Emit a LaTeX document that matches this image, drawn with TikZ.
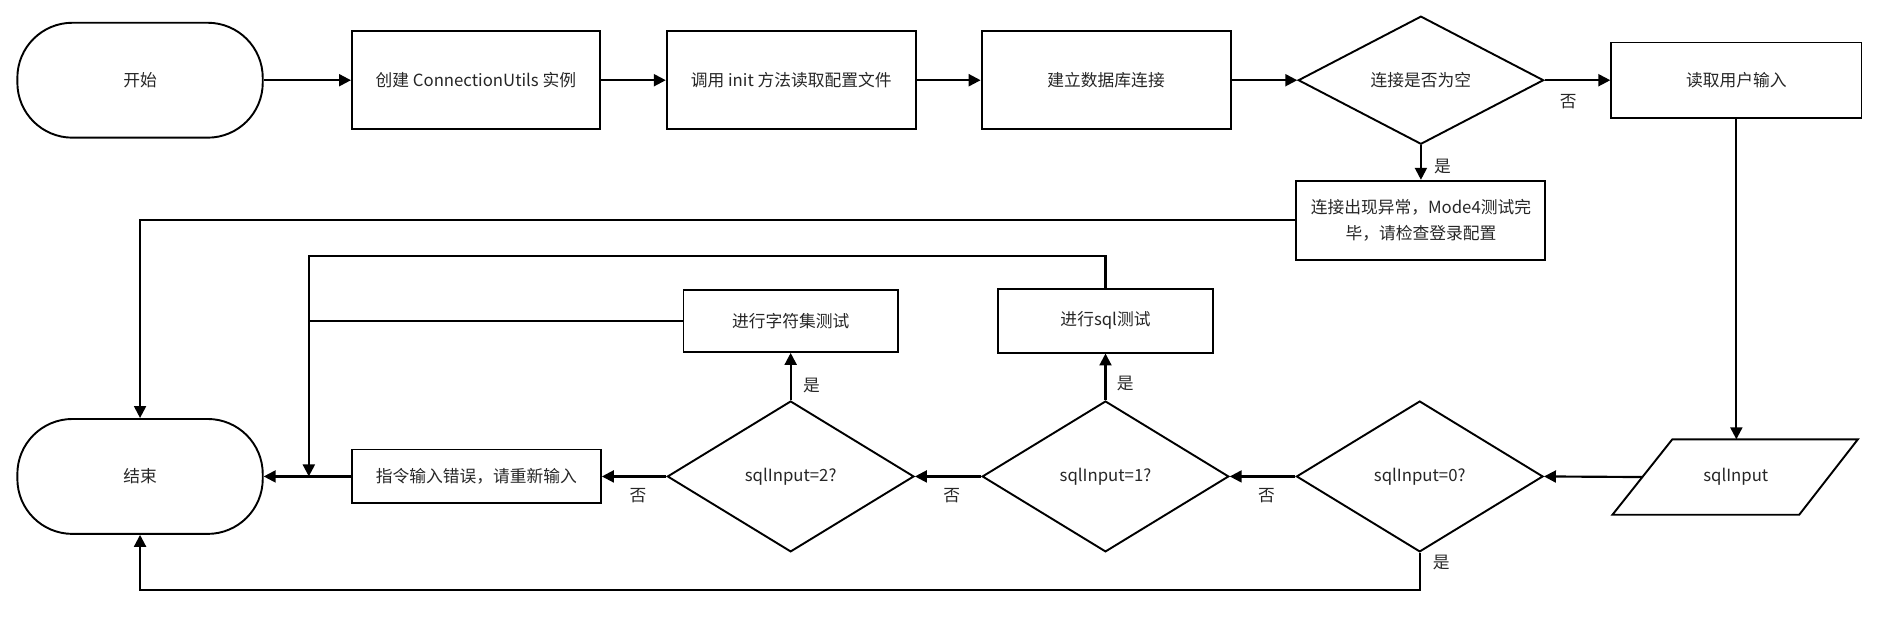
\documentclass[tikz,border=0pt]{standalone}
\usepackage{fontspec}
\setmainfont{Noto Sans CJK SC}
\usetikzlibrary{shapes.geometric,arrows.meta,calc}
\begin{document}
\begin{tikzpicture}[x=1pt,y=-1pt,
 font=\fontsize{14}{21}\selectfont,
 shp/.style={draw, line width=1.6pt, inner sep=2pt, align=center, text=black!85},
 term/.style={shp, rectangle, rounded corners=46pt, minimum width=205pt, minimum height=96pt},
 proc/.style={shp, rectangle, minimum width=208pt, minimum height=82pt},
 dec/.style={shp, diamond, minimum width=206pt, minimum height=126pt, inner sep=0pt},
 iotext/.style={inner sep=2pt, text=black!85},
 ioshape/.style={draw, line width=1.6pt, line join=miter},
 arr/.style={line width=1.8pt, -{Triangle[length=10pt,width=10pt]}},
 ln/.style={line width=1.8pt},
 lbl/.style={font=\fontsize{14}{16}\selectfont, inner sep=0pt, text=black!85}
]
\useasboundingbox (0,0) rectangle (1568,515);
% nodes
\node[term] (start) at (117,67) {开始};
\node[proc, minimum width=207pt] (b1) at (397.5,67) {创建 ConnectionUtils 实例};
\node[proc] (b2) at (661,67) {调用 init 方法读取配置文件};
\node[proc] (b3) at (924,67) {建立数据库连接};
\node[dec, minimum width=205pt, minimum height=107pt] (d) at (1187,67) {连接是否为空};
\node[proc, minimum width=209pt, minimum height=63pt] (b4) at (1450.5,67) {读取用户输入};
\node[proc, minimum width=208pt, minimum height=66pt] (b5) at (1187,184) {连接出现异常，Mode4测试完\\毕，请检查登录配置};
\node[term] (end) at (117,398) {结束};
\node[proc, minimum width=208pt, minimum height=45pt] (b6) at (398,398) {指令输入错误，请重新输入};
\node[dec] (d2) at (660.5,398) {sqlInput=2?};
\node[dec] (d1) at (923.5,398) {sqlInput=1?};
\node[dec] (d0) at (1186,398) {sqlInput=0?};
% parallelogram (input)
\coordinate (pTL) at (1397,367);
\coordinate (pTR) at (1552,367);
\coordinate (pBR) at (1503,430);
\coordinate (pBL) at (1347,430);
\draw[ioshape] (pTL) -- (pTR) -- (pBR) -- (pBL) -- cycle;
\node[iotext] (inp) at (1450,398.5) {sqlInput};
\coordinate (inpW) at ($(pTL)!0.5!(pBL)$);
\coordinate (inpN) at (1450,367);
\node[proc, minimum width=179pt, minimum height=52pt] (b7) at (660.5,268) {进行字符集测试};
\node[proc, minimum width=179pt, minimum height=53pt] (b8) at (923.5,268) {进行sql测试};
\coordinate (j) at (258,398);
% connectors
\draw[arr] (start.east) -- (b1.west);
\draw[arr] (b1.east) -- (b2.west);
\draw[arr] (b2.east) -- (b3.west);
\draw[arr] (b3.east) -- (d.west);
\draw[arr] (d.east) -- (b4.west);
\draw[arr] (d.south) -- (b5.north);
\draw[arr] (b5.west) -| (end.north);
\draw[arr] (b4.south) -- (b4.south |- inpN);
\draw[arr] (inpW) -- (d0.east);
\draw[arr] (d0.west) -- (d1.east);
\draw[arr] (d1.west) -- (d2.east);
\draw[arr] (d2.west) -- (b6.east);
\draw[arr] (b6.west) -- (end.east);
\draw[arr] (d0.south) -- ++(0,31) -| (end.south);
\draw[arr] (d1.north) -- (b8.south);
\draw[arr] (d2.north) -- (b7.south);
\draw[arr] (b8.north) -- ++(0,-27) -| (j);
\draw[ln] (b7.west) -- (b7.west -| j);
% labels
\node[lbl] (l1) at (1310,85) {否};
\node[lbl] (l2) at (1205,139) {是};
\node[lbl] (l3) at (1058,414) {否};
\node[lbl] (l4) at (795,414) {否};
\node[lbl] (l5) at (533,414) {否};
\node[lbl] (l6) at (1204,470) {是};
\node[lbl] (l7) at (940,320) {是};
\node[lbl] (l8) at (678,322) {是};
\end{tikzpicture}
\end{document}
